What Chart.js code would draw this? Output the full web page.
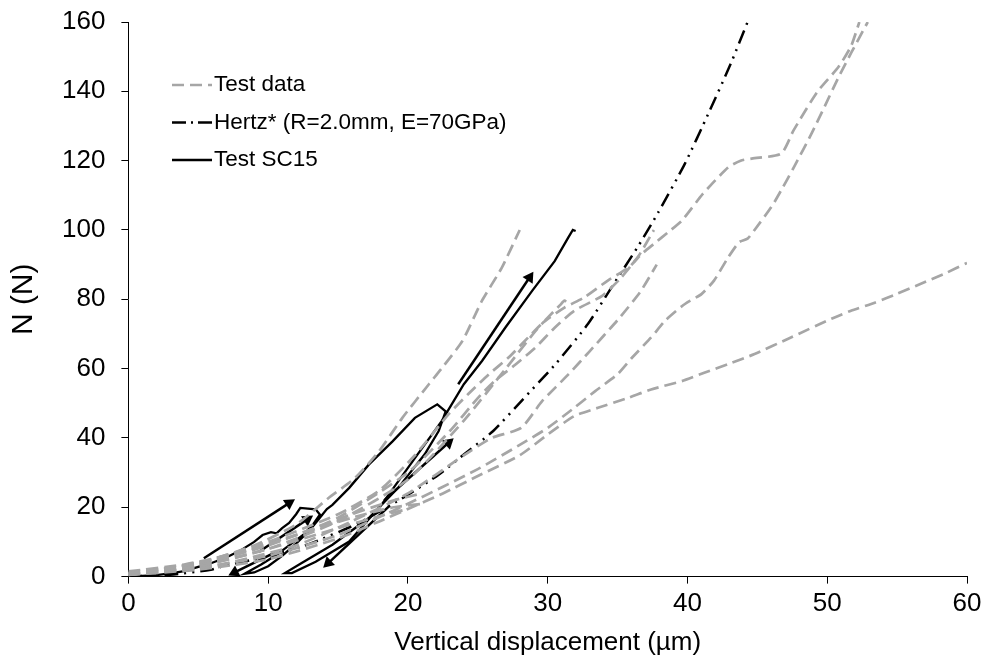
<!DOCTYPE html>
<html>
<head>
<meta charset="utf-8">
<script src="https://cdn.jsdelivr.net/npm/chart.js@4"></script>
<style>
  html, body { margin: 0; padding: 0; background: #fff; }
  #wrap { width: 987px; height: 668px; position: relative; }
</style>
</head>
<body>
<div id="wrap"><canvas id="chart" width="987" height="668"></canvas></div>
<script>
// Test data (grey dashed curves), [displacement µm, N]
const testSteep = [[0,1],[3,2.5],[6,5],[9,9],[12,15],[14.3,22.6],[16.2,28.4],[17.9,36],[19.6,45.8],[21.5,55.5],[22.4,60],[23.9,68],[25.3,79.6],[26.7,89],[28,100]];
const testHook = [[0,1],[5,4],[10,10],[15,18],[18,25],[20.5,35],[22.9,46.8],[24.3,52.6],[25.8,58.4],[27.2,63.2],[28.6,69],[30,74.7],[30.9,78.4],[31.2,79.6],[31.5,78.6]];
const testPair = [[0,0.5],[5,3.5],[10,9],[15,17],[20,30],[23,42],[25,51.5],[26.2,56.4],[27.7,61.2],[29.1,66],[30.5,71.8],[31.9,76.7],[33.9,81],[35.2,86],[36.5,92.5],[37.6,100]];
const testKink = [[0,0.5],[5,3],[10,8],[15,16],[20,28],[24,45],[27,60],[29.6,73],[31.2,77.6],[32.6,80.5],[34.3,85.4],[35.8,89.2],[36.7,93],[37.6,96],[38.6,99.3],[39.6,102.7],[41.1,110.4],[42.9,118],[43.8,120],[44.6,120.6],[46.7,122],[47.6,128.8],[49.3,139.9],[50.8,147],[51.7,153],[52.3,160]];
const testRamp = [[0,0.5],[5,2.5],[10,6],[15,12],[20,21],[25,31],[28,38],[30,42.9],[31.9,48.7],[33.4,53.5],[35,58.4],[36,63],[37.4,69],[38.4,73.8],[39.6,78],[40.2,79.6],[41,81.5],[41.9,85.4],[42.9,92],[43.7,96.5],[44.3,97.5],[44.8,100],[46,106.6],[46.7,111.4],[47.6,118],[48.9,128],[49.8,135.5],[50.8,144],[51.7,151],[52.9,160]];
const testSteep2 = [[0,0.5],[6,3],[12,9],[16,16],[20,24],[24,35],[26,40],[28.1,42.9],[29.6,50.6],[31.5,58.4],[33,65],[35,74],[36.6,82],[37.8,90]];
const testLong = [[0,0.5],[5,2],[10,5],[15,11],[18,16],[20,19.5],[22.5,24],[25,29],[28,35],[30,41],[31.9,46.3],[33.6,48.7],[35.8,51.6],[37.4,54],[39.6,56.4],[41.2,58.8],[42.9,61.3],[44.8,64.2],[47.4,69],[50.3,74.4],[51.7,76.7],[53.4,79],[55,81.6],[56.7,84.5],[58.4,87.4],[60,90.5]];
const testShort1 = [[0,1.5],[4,3.5],[8,7],[12,12],[16,17],[19,20],[21,21]];
const testShort2 = [[0,1],[5,3],[10,8],[15,14],[18,17.5],[20,19.5]];
const testShort3 = [[0,0.8],[6,4.5],[12,12],[16,18],[19,22],[21,24]];

// Hertz* (R=2.0mm, E=70GPa)
const hertz = [[0,0],[3,0.5],[5.9,2],[6.7,2.9],[9.6,5.5],[11.2,7.2],[13,9.5],[16.4,15.3],[19.6,22.6],[22.2,29.4],[24,35.2],[26.1,42],[28.2,51],[30.6,61.5],[32.9,73],[34.5,83],[36.5,95.5],[37.9,105],[39.8,119],[41.5,133.6],[43.1,148],[44.3,160]];

// Test SC15 (solid black, load/unload cycles)
const sc15 = [[0,0],[1,0.2],[2,0.4],[3,0.9],[4,1.6],[5,2.8],[6,4],[7,5.5],[8,7.5],[9,10],[9.6,12],[10.2,12.8],[10.6,12.5],[11,14],[11.5,15.5],[12,18],[12.3,19.8],[13.4,19.4],[13.7,17.9],
  [13.2,15],[12.5,12],[11.5,9],[10.5,6],[9.5,3.5],[8.6,1.5],[8.3,0.8],
  [9,1.2],[10,3],[11,6],[12,9.5],[13,13.5],[13.6,16.5],[14.2,19.5],[14.6,20.7],[15.8,25.6],[17.2,32.3],[18.9,39],[20.5,45.8],[22.1,49.7],[22.7,47.7],
  [22.2,42],[21.2,35.3],[19.3,25.6],[17.2,16.9],[14.6,9.2],[12.4,3.9],[11.2,1],
  [11.7,1],[13.4,4.3],[15.8,10.1],[18.1,20.7],[20.5,34.2],[22.4,44.8],[24,55.5],[25.3,62.2],[27,72],[28.9,82.5],[30.5,91],[31.5,98],[31.8,100],[32,99.7]];

// direction arrows next to SC15, [from, to]
const arrows = [
  [[5.4,5.3],[11.5,21.2]],
  [[10.5,7],[7.6,1.2]],
  [[9.3,7],[12.8,16.5]],
  [[18.7,20.5],[14.3,3.9]],
  [[18.3,22],[22.9,38.6]],
  [[23.6,55.5],[28.7,86.3]]
];

const GREY = '#a6a6a6';
const FONT = '"Liberation Sans", Arial, sans-serif';
const toXY = arr => arr.map(p => ({ x: p[0], y: p[1] }));

const greyCurves = [testSteep, testHook, testPair, testKink, testRamp, testSteep2, testLong, testShort1, testShort2, testShort3];
const datasets = [];

greyCurves.forEach(c => {
    datasets.push({
        data: toXY(c), showLine: true, borderColor: GREY, borderWidth: 2.7,
        borderDash: [12, 6], pointRadius: 0, tension: 0.2, fill: false
    });
});

datasets.push({
    data: toXY(hertz), showLine: true, borderColor: '#000', borderWidth: 2.5,
    borderDash: [14, 6, 2, 6, 2, 6], pointRadius: 0, tension: 0.2
});

datasets.push({
    data: toXY(sc15), showLine: true, borderColor: '#000', borderWidth: 2.3,
    pointRadius: 0, tension: 0
});

// arrow heads point along the segment, worked out from the scales
const arrowRotation = ctx => {
    const d = ctx.dataset.data;
    const sx = ctx.chart.scales.x, sy = ctx.chart.scales.y;
    const dx = sx.getPixelForValue(d[1].x) - sx.getPixelForValue(d[0].x);
    const dy = sy.getPixelForValue(d[1].y) - sy.getPixelForValue(d[0].y);
    return Math.atan2(dx, -dy) * 180 / Math.PI;
};

arrows.forEach(a => {
    datasets.push({
        data: toXY(a), showLine: true, borderColor: '#000', borderWidth: 2.5,
        pointStyle: 'triangle', pointRadius: [0, 7], backgroundColor: '#000',
        pointBorderWidth: 0, rotation: arrowRotation
    });
});

const legendItems = [
    { label: 'Test data', color: GREY, dash: [12, 6] },
    { label: 'Hertz* (R=2.0mm, E=70GPa)', color: '#000', dash: [14, 5, 2, 5] },
    { label: 'Test SC15', color: '#000', dash: [] }
];

const legendPlugin = {
    id: 'insideLegend',
    afterDraw(chart) {
        const ctx = chart.ctx;
        ctx.save();
        ctx.font = '22.5px ' + FONT;
        ctx.textBaseline = 'middle';
        legendItems.forEach((it, i) => {
            const y = 85 + i * 37.5;
            ctx.strokeStyle = it.color;
            ctx.lineWidth = 2.5;
            ctx.setLineDash(it.dash);
            ctx.beginPath();
            ctx.moveTo(172, y);
            ctx.lineTo(212, y);
            ctx.stroke();
            ctx.setLineDash([]);
            ctx.fillStyle = '#000';
            ctx.fillText(it.label, 214, y);
        });
        ctx.restore();
    }
};

new Chart(document.getElementById('chart'), {
    type: 'scatter',
    data: { datasets },
    plugins: [legendPlugin],
    options: {
        responsive: false,
        animation: false,
        layout: { padding: { top: 22, right: 20, left: 2, bottom: 10 } },
        plugins: { legend: { display: false }, tooltip: { enabled: false } },
        scales: {
            x: {
                type: 'linear', min: 0, max: 60,
                ticks: { stepSize: 10, color: '#000', font: { family: FONT, size: 26 }, padding: 5 },
                grid: { drawOnChartArea: false, drawTicks: true, tickLength: 7, color: '#000' },
                border: { color: '#000', width: 1 },
                title: { display: true, text: 'Vertical displacement (µm)', color: '#000', font: { family: FONT, size: 26 }, padding: { top: 2, bottom: 0 } }
            },
            y: {
                type: 'linear', min: 0, max: 160,
                ticks: { stepSize: 20, color: '#000', font: { family: FONT, size: 26 }, padding: 16 },
                grid: { drawOnChartArea: false, drawTicks: true, tickLength: 7, color: '#000' },
                border: { color: '#000', width: 1 },
                title: { display: true, text: 'N (N)', color: '#000', font: { family: FONT, size: 30 }, padding: { bottom: 4 } },
                // keep the label gap from pushing the plot top down
                afterFit: s => { s.paddingTop = 0; s.paddingBottom = 0; }
            }
        }
    }
});
</script>
</body>
</html>
